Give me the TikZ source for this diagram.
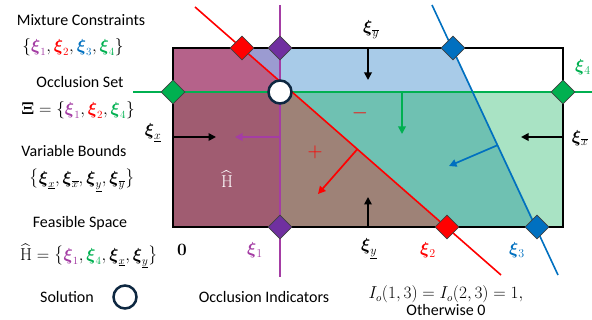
\documentclass[tikz,border=0pt]{standalone}
\usepackage[no-math]{fontspec}
\setmainfont{Carlito}
\usepackage{amsmath}
\usepackage{amssymb}
\definecolor{xipurple}{HTML}{A43DA4}
\definecolor{dmpurple}{HTML}{7030A0}
\definecolor{xired}{HTML}{FF0000}
\definecolor{xiblue}{HTML}{0070C0}
\definecolor{xigreen}{HTML}{00B050}
\definecolor{solnavy}{HTML}{0E2841}
\definecolor{fpink}{HTML}{B5628A}
\definecolor{flavender}{HTML}{9B9BD1}
\definecolor{flightblue}{HTML}{A8CBE8}
\definecolor{fmauve}{HTML}{A05C71}
\definecolor{fbrown}{HTML}{9E8277}
\definecolor{fteal}{HTML}{6FC1B2}
\definecolor{flightgreen}{HTML}{A9E3C4}
\usetikzlibrary{arrows.meta,shapes.geometric}
\newcommand{\xib}{\boldsymbol{\xi}}

\begin{document}
\begin{tikzpicture}[
  x=1pt, y=-1pt,
  font=\fontsize{16}{19}\selectfont,
  cons/.style={line width=1.6pt},
  arr/.style={-{Triangle[length=7.5pt,width=7.5pt]}, line width=1.7pt},
  dmd/.style={diamond, draw=black!75, line width=0.6pt, minimum width=24pt, minimum height=24pt, inner sep=0pt},
  sol/.style={circle, draw=solnavy, line width=2.5pt, fill=white, minimum size=23pt, inner sep=0pt},
  lab/.style={inner sep=0.5pt},
  big/.style={lab, font=\fontsize{17}{19}\selectfont},
]
  \useasboundingbox (0,0) rectangle (592,320);
  \fill[fpink] (173,48) -- (242,48) -- (280,81.2) -- (280,92) -- (173,92) -- cycle;
  \fill[flavender] (242,48) -- (280,48) -- (280,81.2) -- cycle;
  \fill[flightblue] (280,48) -- (453,48) -- (473.6,92) -- (280,92) -- cycle;
  \fill[flightgreen] (473.6,92) -- (563,92) -- (563,227) -- (537,227) -- cycle;
  \fill[fteal] (292.4,92) -- (473.6,92) -- (537,227) -- (447,227) -- cycle;
  \fill[fbrown] (280,92) -- (292.4,92) -- (447,227) -- (280,227) -- cycle;
  \fill[fmauve] (173,92) -- (280,92) -- (280,227) -- (173,227) -- cycle;
  \draw[line width=1.5pt] (173,48) rectangle (563,227);

  \coordinate (redS) at (195,7);
  \coordinate (redE) at (501,275);
  \coordinate (purS) at (280,5);
  \coordinate (purE) at (280,277);
  \coordinate (grnS) at (133,92);
  \coordinate (grnE) at (592,92);
  \coordinate (bluS) at (432,5);
  \coordinate (bluE) at (558,275);
  \draw[cons, xipurple] (purS) -- (purE);
  \draw[cons, xigreen] (grnS) -- (grnE);
  \draw[cons, xired] (redS) -- (redE);
  \draw[cons, xiblue] (bluS) -- (bluE);

  \coordinate (ybarS) at (368,48);   \coordinate (ybarE) at (368,80);
  \coordinate (yS) at (368,227);     \coordinate (yE) at (368,197);
  \coordinate (xbarS) at (563,137);  \coordinate (xbarE) at (521,137);
  \coordinate (xS) at (173,137);     \coordinate (xE) at (216,137);
  \coordinate (purA) at (280,137);   \coordinate (purB) at (235,137);
  \coordinate (grnA) at (402,92);    \coordinate (grnB) at (402,134);
  \coordinate (redA) at (357.5,149); \coordinate (redB) at (318,194);
  \coordinate (bluA) at (498,145);   \coordinate (bluB) at (449,166);
  \draw[arr] (ybarS) -- (ybarE);
  \draw[arr] (yS) -- (yE);
  \draw[arr] (xbarS) -- (xbarE);
  \draw[arr] (xS) -- (xE);
  \draw[arr, xipurple] (purA) -- (purB);
  \draw[arr, xigreen] (grnA) -- (grnB);
  \draw[arr, xired] (redA) -- (redB);
  \draw[arr, xiblue] (bluA) -- (bluB);

  \node[dmd, fill=xired] (d2t) at (242,48) {};
  \node[dmd, fill=dmpurple] (d1t) at (280,48) {};
  \node[dmd, fill=xiblue] (d3t) at (453,48) {};
  \node[dmd, fill=xigreen] (d4l) at (173,92) {};
  \node[dmd, fill=xigreen] (d4r) at (563,92) {};
  \node[dmd, fill=dmpurple] (d1b) at (280,227) {};
  \node[dmd, fill=xired] (d2b) at (447,227) {};
  \node[dmd, fill=xiblue] (d3b) at (537,227) {};
  \node[sol] (opt) at (280,92) {};

  \node[lab, text=xired, font=\fontsize{22}{22}\selectfont] (minus) at (360,113) {$-$};
  \node[lab, text=xired, font=\fontsize{22}{22}\selectfont] (plus) at (315,152) {$+$};
  \node[lab, text=white, font=\fontsize{19}{20}\selectfont] (hhat) at (227,179) {$\widehat{\mathrm{H}}$};
  \node[big] (lybar) at (371,30) {$\xib_{\overline{y}}$};
  \node[big] (lxbar) at (580,138) {$\xib_{\overline{x}}$};
  \node[big] (lx) at (153,133) {$\xib_{\underline{x}}$};
  \node[big, text=xigreen] (l4) at (583,67) {$\xib_4$};
  \node[big] (zero) at (182,250) {$\mathbf{0}$};
  \node[big, text=xipurple] (l1) at (255,250) {$\xib_1$};
  \node[big] (ly) at (369,249) {$\xib_{\underline{y}}$};
  \node[big, text=xired] (l2) at (428,250) {$\xib_2$};
  \node[big, text=xiblue] (l3) at (517,250) {$\xib_3$};

  \node[lab] (mixt) at (81,20) {Mixture Constraints};
  \node[lab] (mixs) at (73,47) {$\{{\color{xipurple}\xib_1},{\color{xired}\xib_2},{\color{xiblue}\xib_3},{\color{xigreen}\xib_4}\}$};
  \node[lab] (occt) at (80,82) {Occlusion Set};
  \node[lab] (occs) at (78,110) {$\boldsymbol{\Xi}=\{{\color{xipurple}\xib_1},{\color{xired}\xib_2},{\color{xigreen}\xib_4}\}$};
  \node[lab] (vart) at (74,151) {Variable Bounds};
  \node[lab] (vars) at (82,180) {$\bigl\{\xib_{\underline{x}},\xib_{\overline{x}},\xib_{\underline{y}},\xib_{\overline{y}}\bigr\}$};
  \node[lab] (feat) at (80,223) {Feasible Space};
  \node[lab] (feas) at (89,256) {$\widehat{\mathrm{H}}=\bigl\{{\color{xipurple}\xib_1},{\color{xigreen}\xib_4},\xib_{\underline{x}},\xib_{\underline{y}}\bigr\}$};
  \node[lab] (solt) at (67,297) {Solution};
  \node[sol] (solc) at (125,297) {};
  \node[lab] (indt) at (264,297) {Occlusion Indicators};
  \node[lab, align=center] (inds) at (446,301) {$I_o(1,3)=I_o(2,3)=1,$\\[-2pt]Otherwise 0};
\end{tikzpicture}
\end{document}
